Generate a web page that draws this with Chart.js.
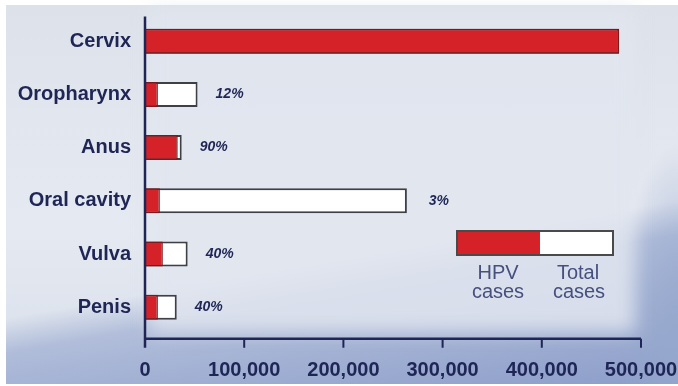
<!DOCTYPE html>
<html>
<head>
<meta charset="utf-8">
<script src="https://cdn.jsdelivr.net/npm/chart.js@4"></script>
<style>
  html, body { margin: 0; padding: 0; background: #ffffff; }
  #wrap { position: relative; width: 678px; height: 386px; overflow: hidden; background: #ffffff; }
  #bg {
    position: absolute; left: 6px; top: 5px; width: 672px; height: 379px; overflow: hidden;
    background:
      radial-gradient(ellipse 60px 190px at 672px 330px, rgba(150,168,205,0.9), rgba(150,168,205,0) 100%),
      linear-gradient(170deg, rgba(255,255,255,0) 63%, rgba(150,166,206,0.6) 70%, rgba(128,147,196,0.85) 100%),
      linear-gradient(180deg, #dde2ea 0%, #e2e6ee 30%, #e5e9f1 60%, #dde3ed 84%, #d0d8e8 100%);
  }
  #panel {
    position: absolute; left: 150px; top: 10px; width: 485px; height: 322px;
    background: rgba(224,229,239,0.85); filter: blur(9px);
  }
  #c { position: absolute; left: 0; top: 0; }
</style>
</head>
<body>
<div id="wrap">
  <div id="bg"></div>
  <div id="panel"></div>
  <canvas id="c" width="678" height="386"></canvas>
</div>
<script>
const categories = ['Cervix', 'Oropharynx', 'Anus', 'Oral cavity', 'Vulva', 'Penis'];
const hpvCases = [478000, 13000, 33000, 15000, 18000, 13000];
const totalCases = [478000, 53000, 37000, 264000, 43000, 32000];
const percentLabels = ['', '12%', '90%', '3%', '40%', '40%'];
const xTickValues = [0, 100000, 200000, 300000, 400000, 500000];
const legendLabels = [['HPV', 'cases'], ['Total', 'cases']];

const NAVY = '#1f2656';
const FONT = "'Liberation Sans', Arial, sans-serif";

const overlay = {
  id: 'overlay',
  afterDatasetsDraw(chart) {
    const ctx = chart.ctx;
    const xs = chart.scales.x, ys = chart.scales.y;
    const ca = chart.chartArea;
    const axisY = ca.bottom + 5;
    ctx.save();
    // axes
    ctx.strokeStyle = NAVY;
    ctx.lineWidth = 2.5;
    ctx.beginPath();
    ctx.moveTo(xs.getPixelForValue(0), ca.top + 2);
    ctx.lineTo(xs.getPixelForValue(0), axisY + 9);
    ctx.moveTo(xs.getPixelForValue(0), axisY);
    ctx.lineTo(xs.getPixelForValue(xTickValues[xTickValues.length - 1]), axisY);
    ctx.stroke();
    ctx.lineWidth = 2;
    ctx.beginPath();
    xTickValues.forEach(v => {
      if (v === 0) return;
      const px = xs.getPixelForValue(v);
      ctx.moveTo(px, axisY);
      ctx.lineTo(px, axisY + 9);
    });
    ctx.stroke();
    // percent labels
    ctx.fillStyle = NAVY;
    ctx.font = "italic bold 14px " + FONT;
    ctx.textAlign = 'center';
    ctx.textBaseline = 'middle';
    percentLabels.forEach((t, i) => {
      if (!t) return;
      const px = xs.getPixelForValue(totalCases[i]) + 32;
      const py = ys.getPixelForValue(i);
      ctx.fillText(t, px, py);
    });
    // legend
    const lx = 457, ly = 231, lw = 156, lh = 24, split = 83;
    ctx.fillStyle = '#ffffff';
    ctx.fillRect(lx, ly, lw, lh);
    ctx.fillStyle = '#d42228';
    ctx.fillRect(lx, ly, split, lh);
    ctx.strokeStyle = '#4a4a4a';
    ctx.lineWidth = 2;
    ctx.strokeRect(lx, ly, lw, lh);
    ctx.fillStyle = '#45507e';
    ctx.font = "20px " + FONT;
    ctx.fillText(legendLabels[0][0], 498, 273);
    ctx.fillText(legendLabels[0][1], 498, 292);
    ctx.fillText(legendLabels[1][0], 578, 273);
    ctx.fillText(legendLabels[1][1], 579, 292);
    ctx.restore();
  }
};

new Chart(document.getElementById('c'), {
  type: 'bar',
  data: {
    labels: categories,
    datasets: [
      {
        label: 'Total cases',
        data: totalCases,
        backgroundColor: '#ffffff',
        borderColor: '#3f3f46',
        borderWidth: 2,
        grouped: false,
        order: 2,
        barPercentage: 0.47,
        categoryPercentage: 1
      },
      {
        label: 'HPV cases',
        data: hpvCases,
        backgroundColor: '#d42228',
        borderColor: '#7a1a1e',
        borderWidth: 1.5,
        grouped: false,
        order: 1,
        barPercentage: 0.47,
        categoryPercentage: 1
      }
    ]
  },
  options: {
    indexAxis: 'y',
    responsive: false,
    animation: false,
    devicePixelRatio: 1,
    layout: { padding: { top: 14.6, right: 37, bottom: 0, left: 0 } },
    plugins: { legend: { display: false }, tooltip: { enabled: false } },
    scales: {
      x: {
        type: 'linear',
        min: 0,
        max: 500000,
        grid: { display: false, drawTicks: false },
        border: { display: false },
        afterBuildTicks(scale) { scale.ticks = xTickValues.map(v => ({ value: v })); },
        afterFit(scale) {
          scale.height = 52.2;
          scale.paddingLeft = 0; scale.paddingRight = 0;
        },
        ticks: {
          padding: 25,
          color: NAVY,
          font: { family: FONT, size: 20, weight: 'bold' },
          maxRotation: 0,
          autoSkip: false,
          callback: v => Number(v).toLocaleString('en-US')
        }
      },
      y: {
        grid: { display: false, drawTicks: false },
        border: { display: false },
        afterFit(scale) {
          scale.width = 145;
          scale.paddingTop = 0; scale.paddingBottom = 0;
        },
        ticks: {
          padding: 14,
          color: NAVY,
          font: { family: FONT, size: 20, weight: 'bold' }
        }
      }
    }
  },
  plugins: [overlay]
});
</script>
</body>
</html>
